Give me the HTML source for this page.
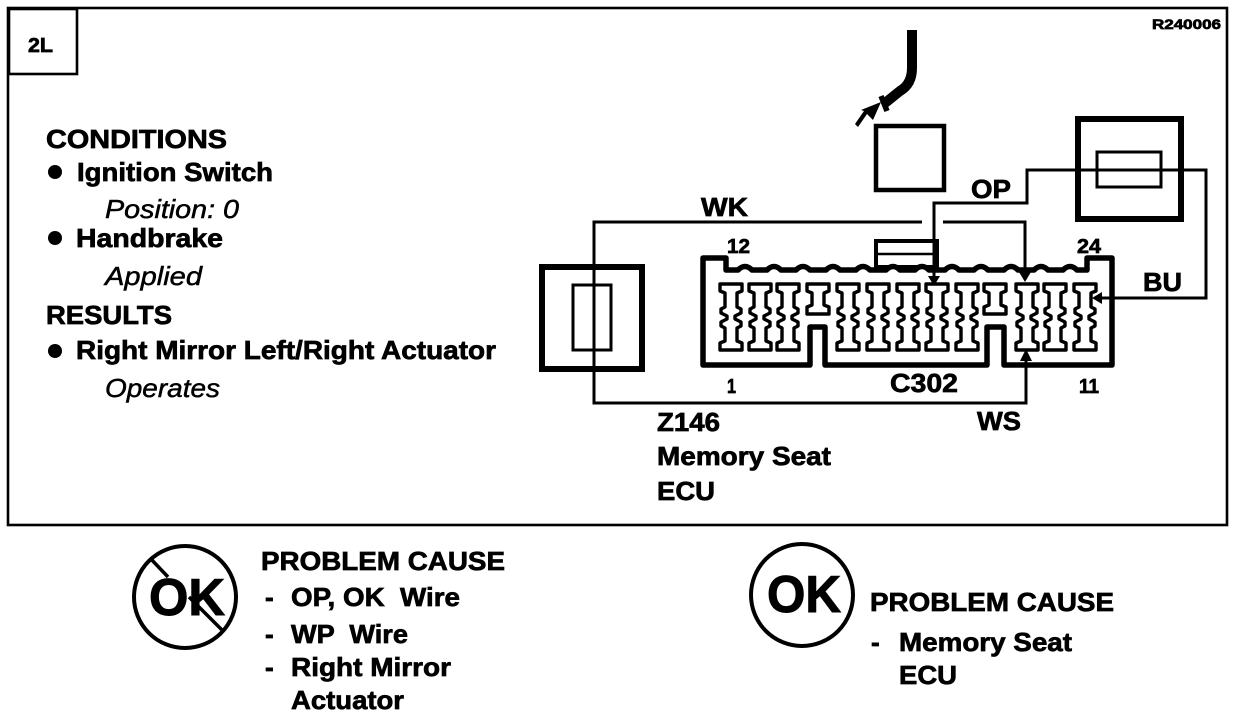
<!DOCTYPE html>
<html><head><meta charset="utf-8"><style>
html,body{margin:0;padding:0;background:#fff}
svg{display:block}
text{font-family:"Liberation Sans",sans-serif;font-weight:bold;fill:#000;stroke:#000;stroke-width:.7}
.i{font-style:italic;font-weight:normal;stroke-width:.5}
</style></head><body>
<svg xmlns="http://www.w3.org/2000/svg" width="1248" height="716" viewBox="0 0 1248 716">
<defs>
<path id="t" d="M-11 0H11V7L6 9V23L10 25V29L4 32V35L10 38V42L6 44V57L11 59V66H-11V59L-6 57V44L-10 42V38L-4 35V32L-10 29V25L-6 23V9L-11 7Z" fill="#fff" stroke="#000" stroke-width="3.4" stroke-linejoin="round"/>
<path id="s" d="M-11 0H11V7L6 9V21L11 23V30H-11V23L-6 21V9L-11 7Z" fill="#fff" stroke="#000" stroke-width="3.4" stroke-linejoin="round"/>
</defs>
<g fill="none" stroke="#000">
<rect x="8" y="8" width="1219" height="517" stroke-width="2.6"/>
<rect x="9" y="9" width="68" height="65" stroke-width="2.6"/>
<!-- top wire -->
<path d="M912 30V68Q912 84 900 91L885 103" stroke-width="10"/>
<path d="M881 96L887 111" stroke-width="5.5"/>
<rect x="876" y="126" width="68" height="64" stroke-width="4.5"/>
<rect x="1078" y="119" width="103" height="100" stroke-width="6"/>
<rect x="1097" y="152" width="64" height="35" stroke-width="3"/>
<rect x="542" y="267" width="100" height="102" stroke-width="6"/>
<rect x="573" y="285" width="38" height="65" stroke-width="3"/>
<!-- tab above connector -->
<rect x="876" y="241" width="61" height="26" stroke-width="4"/>
<path d="M876 254H937" stroke-width="2.5"/>
<!-- connector body -->
<path d="M703 258H726V270H738Q745 263 752 270H767Q774 263 781 270H796Q803 263 810 270H826Q833 263 840 270H856Q863 263 870 270H886Q893 263 900 270H915Q922 263 929 270H945Q952 263 959 270H974Q981 263 988 270H1004Q1011 263 1018 270H1034Q1041 263 1048 270H1063Q1070 263 1077 270H1087V258H1112V365H1004V327H987V365H825V327H810V365H703Z" stroke-width="5.5" stroke-linejoin="round"/>
</g>
<!-- terminals -->
<use href="#t" x="731" y="284"/><use href="#t" x="760" y="284"/><use href="#t" x="788" y="284"/>
<use href="#s" x="818" y="284"/>
<use href="#t" x="848" y="284"/><use href="#t" x="878" y="284"/><use href="#t" x="908" y="284"/><use href="#t" x="937" y="284"/><use href="#t" x="967" y="284"/>
<use href="#s" x="995" y="284"/>
<use href="#t" x="1027" y="284"/><use href="#t" x="1055" y="284"/><use href="#t" x="1085" y="284"/>
<!-- wires -->
<g fill="none" stroke="#000" stroke-width="3">
<path d="M934 278V203H1027V170H1206V298H1100"/>
<path d="M1025 272V222H943M922 222H594V403H1026V356"/>
</g>
<!-- arrowheads -->
<g fill="#000" stroke="none">
<path d="M881 102L873 120 867 114 858 127 855 124 864 111 861 110Z"/>
<path d="M928 276H940L934 286Z"/>
<path d="M1019 272H1031L1025 282Z"/>
<path d="M1092 298L1102 292V304Z"/>
<path d="M1026 349L1020 361H1032Z"/>
</g>
<!-- circles -->
<g fill="none" stroke="#000" stroke-width="4">
<circle cx="185" cy="597" r="51"/>
<circle cx="802" cy="595" r="51"/>
<path d="M150 558L168 577M189 597L222 630" stroke-width="3.5"/>
</g>
<!-- labels -->
<text x="1152" y="29" font-size="14" textLength="69" lengthAdjust="spacingAndGlyphs">R240006</text>
<text x="28" y="52" font-size="20" textLength="25" lengthAdjust="spacingAndGlyphs">2L</text>
<text x="46" y="148" font-size="26" textLength="181" lengthAdjust="spacingAndGlyphs">CONDITIONS</text>
<circle cx="55" cy="172" r="7"/>
<text x="77" y="181" font-size="26" textLength="196" lengthAdjust="spacingAndGlyphs">Ignition Switch</text>
<text class="i" x="105" y="218" font-size="26" textLength="134" lengthAdjust="spacingAndGlyphs">Position: 0</text>
<circle cx="55" cy="238" r="7"/>
<text x="76" y="247" font-size="26" textLength="147" lengthAdjust="spacingAndGlyphs">Handbrake</text>
<text class="i" x="105" y="285" font-size="26" textLength="97" lengthAdjust="spacingAndGlyphs">Applied</text>
<text x="46" y="324" font-size="26" textLength="126" lengthAdjust="spacingAndGlyphs">RESULTS</text>
<circle cx="55" cy="351" r="7"/>
<text x="76" y="359" font-size="26" textLength="420" lengthAdjust="spacingAndGlyphs">Right Mirror Left/Right Actuator</text>
<text class="i" x="105" y="397" font-size="26" textLength="115" lengthAdjust="spacingAndGlyphs">Operates</text>
<text x="701" y="216" font-size="26" textLength="47" lengthAdjust="spacingAndGlyphs">WK</text>
<text x="971" y="198" font-size="26" textLength="40" lengthAdjust="spacingAndGlyphs">OP</text>
<text x="1143" y="291" font-size="26" textLength="39" lengthAdjust="spacingAndGlyphs">BU</text>
<text x="727" y="253" font-size="20" textLength="23" lengthAdjust="spacingAndGlyphs">12</text>
<text x="1077" y="253" font-size="20" textLength="24" lengthAdjust="spacingAndGlyphs">24</text>
<text x="727" y="393" font-size="20" textLength="9" lengthAdjust="spacingAndGlyphs">1</text>
<text x="1079" y="393" font-size="20" textLength="20" lengthAdjust="spacingAndGlyphs">11</text>
<text x="890" y="392" font-size="26" textLength="68" lengthAdjust="spacingAndGlyphs">C302</text>
<text x="977" y="430" font-size="26" textLength="44" lengthAdjust="spacingAndGlyphs">WS</text>
<text x="657" y="431" font-size="26" textLength="63" lengthAdjust="spacingAndGlyphs">Z146</text>
<text x="657" y="465" font-size="26" textLength="174" lengthAdjust="spacingAndGlyphs">Memory Seat</text>
<text x="657" y="500" font-size="26" textLength="58" lengthAdjust="spacingAndGlyphs">ECU</text>
<text x="149" y="615" font-size="52" textLength="76" lengthAdjust="spacingAndGlyphs" style="stroke-width:1">OK</text>
<text x="767" y="612" font-size="52" textLength="74" lengthAdjust="spacingAndGlyphs" style="stroke-width:1">OK</text>
<text x="261" y="570" font-size="26" textLength="244" lengthAdjust="spacingAndGlyphs">PROBLEM CAUSE</text>
<text x="265" y="606" font-size="26">-</text>
<text x="291" y="606" font-size="26" textLength="169" lengthAdjust="spacingAndGlyphs" xml:space="preserve">OP, OK  Wire</text>
<text x="265" y="643" font-size="26">-</text>
<text x="291" y="643" font-size="26" textLength="117" lengthAdjust="spacingAndGlyphs" xml:space="preserve">WP  Wire</text>
<text x="265" y="676" font-size="26">-</text>
<text x="291" y="676" font-size="26" textLength="160" lengthAdjust="spacingAndGlyphs">Right Mirror</text>
<text x="291" y="709" font-size="26" textLength="113" lengthAdjust="spacingAndGlyphs">Actuator</text>
<text x="870" y="611" font-size="26" textLength="244" lengthAdjust="spacingAndGlyphs">PROBLEM CAUSE</text>
<text x="871" y="651" font-size="26">-</text>
<text x="899" y="651" font-size="26" textLength="173" lengthAdjust="spacingAndGlyphs">Memory Seat</text>
<text x="899" y="684" font-size="26" textLength="58" lengthAdjust="spacingAndGlyphs">ECU</text>
</svg>
</body></html>
